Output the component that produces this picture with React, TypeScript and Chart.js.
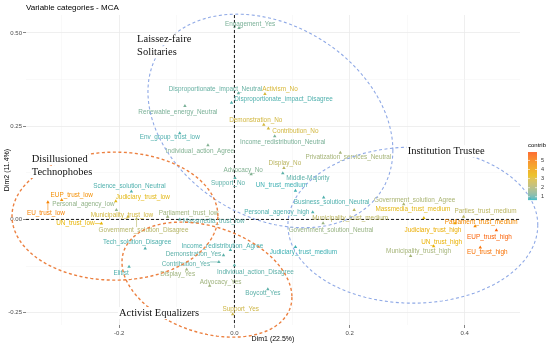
import React, { useEffect, useRef } from 'react';
import { Chart, registerables } from 'chart.js';

Chart.register(...registerables);

// ---------------- DATA ----------------
const categories = [
  'Engagement_Yes', 'Disproportionate_impact_Neutral', 'Activism_No', 'Disproportionate_impact_Disagree',
  'Renewable_energy_Neutral', 'Demonstration_No', 'Contribution_No', 'Env_group_trust_low',
  'Income_redistribution_Neutral', 'Individual_action_Agree', 'Display_No', 'Privatization_services_Neutral',
  'Advocacy_No', 'Middle-Majority', 'Support_No', 'UN_trust_medium',
  'Business_solution_Neutral', 'Personal_agency_high', 'Municipality_trust_medium', 'Government_solution_Neutral',
  'Judiciary_trust_medium', 'Government_solution_Agree', 'Massmedia_trust_medium', 'Parties_trust_medium',
  'Parliament_trust_medium', 'Judiciary_trust_high', 'EUP_trust_high', 'UN_trust_high',
  'EU_trust_high', 'Municipality_trust_high', 'Science_solution_Neutral', 'EUP_trust_low',
  'Judiciary_trust_low', 'Personal_agency_low', 'EU_trust_low', 'Municipality_trust_low',
  'UN_trust_low', 'Government_solution_Disagree', 'Parliament_trust_low', 'Massmedia_trust_low',
  'Tech_solution_Disagree', 'Income_redistribution_Agree', 'Demonstration_Yes', 'Contribution_Yes',
  'Elitist', 'Display_Yes', 'Individual_action_Disagree', 'Advocacy_Yes',
  'Boycott_Yes', 'Support_Yes',
];

const dim1 = [
  0.008, 0.007, 0.053, -0.005,
  -0.086, 0.051, 0.059, -0.095,
  0.070, -0.046, 0.086, 0.184,
  0.029, 0.084, 0.001, 0.106,
  0.155, 0.136, 0.208, 0.154,
  0.106, 0.294, 0.329, 0.398,
  0.418, 0.383, 0.455, 0.346,
  0.427, 0.306, -0.179, -0.300,
  -0.206, -0.205, -0.324, -0.185,
  -0.231, -0.170, -0.116, -0.095,
  -0.155, -0.007, -0.019, -0.027,
  -0.183, -0.083, 0.000, -0.043,
  0.058, -0.003,
];

const dim2 = [
  0.513, 0.338, 0.336, 0.313,
  0.304, 0.254, 0.244, 0.231,
  0.223, 0.199, 0.138, 0.179,
  0.121, 0.124, 0.111, 0.077,
  0.059, 0.019, 0.025, -0.010,
  -0.074, 0.041, 0.004, 0.007,
  -0.018, -0.010, -0.029, -0.072,
  -0.075, -0.098, 0.075, 0.052,
  0.049, 0.025, 0.046, 0.007,
  -0.011, 0.001, 0.007, 0.000,
  -0.078, -0.082, -0.096, -0.114,
  -0.127, -0.134, -0.123, -0.178,
  -0.187, -0.254,
];

const contrib = [
  1.3, 1.1, 2.9, 0.9,
  1.3, 2.8, 2.8, 0.9,
  1.3, 1.4, 2.3, 1.9,
  1.4, 1.0, 1.0, 0.8,
  0.9, 0.9, 2.3, 1.7,
  0.8, 2.0, 3.2, 2.3,
  4.6, 3.6, 5.6, 3.5,
  5.2, 1.9, 0.9, 4.5,
  3.2, 1.6, 4.8, 2.8,
  3.4, 2.2, 1.8, 1.0,
  0.9, 0.9, 1.0, 1.0,
  0.9, 1.8, 1.0, 1.8,
  1.0, 2.7,
];

// label nudges (pixels) from each point, as placed by the repel layout
const labelDx = [
  11, -23, 15, 52,
  -7, -8, 27, -10,
  8, -8, 1, 8,
  -8, 25, -7, -14,
  8, -36, -4, 8,
  8, 11, -11, 22,
  6, -22, -7, 8,
  7, 8, -2, 10,
  27, -33, -2, -6,
  -26, 7, 21, 34,
  -8, -8, -30, -33,
  -8, -9, 21, 11,
  -5, 8,
];
const labelDy = [
  -4, -4, -5, -3,
  6, -4, 3, 4,
  6, 6, -5, 5,
  -4, 5, 5, -5,
  5, 0, 8, 7,
  5, -4, -9, -6,
  -4, 7, 7, -4,
  5, -5, -5, -5,
  -4, -6, 11, -2,
  0, 11, -4, 2,
  -6, -4, -1, 2,
  6, 5, 7, -4,
  4, -5,
];
const segmentLabels = ['EU_trust_low', 'UN_trust_low', 'Government_solution_Disagree', 'Contribution_Yes'];

const xTicks = [-0.3, -0.2, -0.1, 0, 0.1, 0.2, 0.3, 0.4];
const xMajor = [-0.2, 0, 0.2, 0.4];
const xMajorLabels = ['-0.2', '0.0', '0.2', '0.4'];
const yTicks = [-0.25, -0.125, 0, 0.125, 0.25, 0.375, 0.5];
const yMajor = [-0.25, 0, 0.25, 0.5];
const yMajorLabels = ['-0.25', '0.00', '0.25', '0.50'];
const xRange = [-0.362, 0.496];
const yRange = [-0.283, 0.548];

const contribLimits = [0.64, 5.93];
const legendBreaks = [1, 2, 3, 4, 5];
const gradientColors = ['#00AFBB', '#E7B800', '#FC4E07'];

const groupNames = [['Laissez-faire', 'Solitaries'], ['Disillusioned', 'Technophobes'], ['Institution Trustee'], ['Activist Equalizers']];
const groupTextX = [-0.169, -0.352, 0.301, -0.2005];
const groupTextY = [0.483, 0.162, 0.183, -0.251];
const groupColors = ['#8FA9E6', '#EC8040', '#8FA9E6', '#EC8040'];
// ellipse: centre and two conjugate semi-diameters (data units)
const ellipseCenter = [[0.0625, 0.264], [-0.2075, 0.0088], [0.3099, -0.0153], [-0.0477, -0.1614]];
const ellipseA = [[0.2127, -0.0783], [0.1788, 0], [0.217, 0], [0.1476, -0.0469]];
const ellipseB = [[0, -0.2753], [0, 0.1716], [0, 0.2091], [0, -0.1469]];

// ---------------- COLOUR ----------------
function hexToRgb(h: string) {
  const n = parseInt(h.slice(1), 16);
  return [(n >> 16) & 255, (n >> 8) & 255, n & 255];
}
function rgbToLab(c: number[]) {
  const lin = (v: number) => { v /= 255; return v <= 0.04045 ? v / 12.92 : Math.pow((v + 0.055) / 1.055, 2.4); };
  const R = lin(c[0]), G = lin(c[1]), B = lin(c[2]);
  const X = (R * 0.4124 + G * 0.3576 + B * 0.1805) / 0.95047;
  const Y = R * 0.2126 + G * 0.7152 + B * 0.0722;
  const Z = (R * 0.0193 + G * 0.1192 + B * 0.9505) / 1.08883;
  const f = (t: number) => (t > 0.008856 ? Math.cbrt(t) : 7.787 * t + 16 / 116);
  const fx = f(X), fy = f(Y), fz = f(Z);
  return [116 * fy - 16, 500 * (fx - fy), 200 * (fy - fz)];
}
function labToRgb(l: number[]) {
  const fy = (l[0] + 16) / 116, fx = fy + l[1] / 500, fz = fy - l[2] / 200;
  const inv = (t: number) => (t * t * t > 0.008856 ? t * t * t : (t - 16 / 116) / 7.787);
  const X = inv(fx) * 0.95047, Y = inv(fy), Z = inv(fz) * 1.08883;
  const R = 3.2406 * X - 1.5372 * Y - 0.4986 * Z;
  const G = -0.9689 * X + 1.8758 * Y + 0.0415 * Z;
  const B = 0.0557 * X - 0.204 * Y + 1.057 * Z;
  const g = (v: number) => {
    v = v <= 0.0031308 ? 12.92 * v : 1.055 * Math.pow(v, 1 / 2.4) - 0.055;
    return Math.round(Math.min(1, Math.max(0, v)) * 255);
  };
  return [g(R), g(G), g(B)];
}
const labStops = gradientColors.map((h) => rgbToLab(hexToRgb(h)));
function contribColor(v: number) {
  let t = (v - contribLimits[0]) / (contribLimits[1] - contribLimits[0]);
  t = Math.min(1, Math.max(0, t));
  const seg = t < 0.5 ? 0 : 1;
  const u = t < 0.5 ? t / 0.5 : (t - 0.5) / 0.5;
  const a = labStops[seg], b = labStops[seg + 1];
  const lab = [a[0] + (b[0] - a[0]) * u, a[1] + (b[1] - a[1]) * u, a[2] + (b[2] - a[2]) * u];
  const c = labToRgb(lab);
  return `rgb(${c[0]},${c[1]},${c[2]})`;
}

const near = (v: number, arr: number[]) => arr.some((m) => Math.abs(m - v) < 1e-9);
const SANS = '"Liberation Sans", Arial, sans-serif';

const overlayPlugin = {
  id: 'overlay',
  beforeDatasetsDraw(chart: any) {
    const { ctx, chartArea: ca, scales } = chart;
    const x0 = scales.x.getPixelForValue(0);
    const y0 = scales.y.getPixelForValue(0);
    ctx.save();
    ctx.strokeStyle = '#000';
    ctx.lineWidth = 0.9;
    ctx.setLineDash([3, 2]);
    ctx.beginPath();
    ctx.moveTo(x0, ca.top);
    ctx.lineTo(x0, ca.bottom);
    ctx.moveTo(ca.left, y0);
    ctx.lineTo(ca.right, y0);
    ctx.stroke();
    ctx.restore();
  },
  afterDatasetsDraw(chart: any) {
    const { ctx, scales } = chart;
    ctx.save();
    ctx.font = `6.4px ${SANS}`;
    ctx.textAlign = 'center';
    ctx.textBaseline = 'middle';
    categories.forEach((name, i) => {
      const px = scales.x.getPixelForValue(dim1[i]);
      const py = scales.y.getPixelForValue(dim2[i]);
      const lx = px + labelDx[i];
      const ly = py + labelDy[i];
      const col = contribColor(contrib[i]);
      if (segmentLabels.includes(name)) {
        const w = ctx.measureText(name).width;
        const bx = Math.min(Math.max(px, lx - w / 2), lx + w / 2);
        const by = Math.min(Math.max(py, ly - 3), ly + 3);
        ctx.strokeStyle = col;
        ctx.lineWidth = 0.6;
        ctx.beginPath();
        ctx.moveTo(bx, by);
        ctx.lineTo(px, py);
        ctx.stroke();
      }
      ctx.fillStyle = col;
      ctx.fillText(name, lx, ly);
    });
    ctx.restore();
  },
  afterDraw(chart: any) {
    const { ctx, chartArea: ca, scales } = chart;
    ctx.save();
    // ellipses
    ellipseCenter.forEach((c, k) => {
      ctx.strokeStyle = groupColors[k];
      ctx.lineWidth = k % 2 === 0 ? 1.1 : 1.4;
      ctx.setLineDash([3, 2.5]);
      ctx.beginPath();
      for (let s = 0; s <= 160; s++) {
        const t = (s / 160) * Math.PI * 2;
        const vx = c[0] + ellipseA[k][0] * Math.cos(t) + ellipseB[k][0] * Math.sin(t);
        const vy = c[1] + ellipseA[k][1] * Math.cos(t) + ellipseB[k][1] * Math.sin(t);
        const px = scales.x.getPixelForValue(vx);
        const py = scales.y.getPixelForValue(vy);
        if (s === 0) ctx.moveTo(px, py); else ctx.lineTo(px, py);
      }
      ctx.stroke();
    });
    ctx.setLineDash([]);
    // group names
    ctx.font = `10.5px "Liberation Serif", "Times New Roman", serif`;
    ctx.textAlign = 'left';
    ctx.textBaseline = 'middle';
    groupNames.forEach((lines, k) => {
      const gx = scales.x.getPixelForValue(groupTextX[k]);
      const gy = scales.y.getPixelForValue(groupTextY[k]);
      lines.forEach((ln, j) => {
        const w = ctx.measureText(ln).width;
        ctx.fillStyle = '#fff';
        ctx.fillRect(gx - 1, gy + j * 13 - 6, w + 2, 12);
        ctx.fillStyle = '#111';
        ctx.fillText(ln, gx, gy + j * 13);
      });
    });
    // title
    ctx.fillStyle = '#000';
    ctx.font = `8px ${SANS}`;
    ctx.fillText('Variable categories - MCA', ca.left, 8);
    // axis titles
    ctx.font = `7px ${SANS}`;
    ctx.textAlign = 'center';
    ctx.fillText('Dim1 (22.5%)', (ca.left + ca.right) / 2, 339);
    ctx.save();
    ctx.translate(7, (ca.top + ca.bottom) / 2);
    ctx.rotate(-Math.PI / 2);
    ctx.fillText('Dim2 (11.4%)', 0, 0);
    ctx.restore();
    // legend
    const barL = ca.right + 8, barW = 9, barTop = 152, barBot = 200;
    const toY = (v: number) => barBot - ((v - contribLimits[0]) / (contribLimits[1] - contribLimits[0])) * (barBot - barTop);
    for (let yy = barTop; yy < barBot; yy += 0.5) {
      const v = contribLimits[0] + ((barBot - yy) / (barBot - barTop)) * (contribLimits[1] - contribLimits[0]);
      ctx.fillStyle = contribColor(v);
      ctx.fillRect(barL, yy, barW, 0.6);
    }
    ctx.strokeStyle = '#fff';
    ctx.lineWidth = 0.6;
    ctx.fillStyle = '#333';
    ctx.font = `5.5px ${SANS}`;
    ctx.textAlign = 'left';
    legendBreaks.forEach((b) => {
      const yy = toY(b);
      ctx.beginPath();
      ctx.moveTo(barL, yy); ctx.lineTo(barL + 2, yy);
      ctx.moveTo(barL + barW - 2, yy); ctx.lineTo(barL + barW, yy);
      ctx.stroke();
      ctx.fillText(String(b), barL + barW + 4, yy);
    });
    ctx.font = `6px ${SANS}`;
    ctx.fillStyle = '#000';
    ctx.fillText('contrib', barL, 145);
    ctx.restore();
  },
};

export default function App() {
  const ref = useRef<HTMLCanvasElement>(null);
  useEffect(() => {
    document.body.style.margin = '0';
    const canvas = ref.current!;
    const chart = new Chart(canvas, {
      type: 'scatter',
      data: {
        datasets: [
          {
            data: categories.map((_, i) => ({ x: dim1[i], y: dim2[i] })),
            pointStyle: 'triangle',
            pointRadius: 2,
            pointBorderWidth: 0,
            backgroundColor: contrib.map((c) => contribColor(c)),
            borderColor: contrib.map((c) => contribColor(c)),
          },
        ],
      },
      options: {
        animation: false,
        responsive: false,
        devicePixelRatio: 1,
        layout: { padding: { left: 0, right: 30, top: 15, bottom: 0 } },
        plugins: { legend: { display: false }, tooltip: { enabled: false }, title: { display: false } },
        scales: {
          x: {
            type: 'linear',
            min: xRange[0],
            max: xRange[1],
            afterBuildTicks: (s: any) => { s.ticks = xTicks.map((v) => ({ value: v })); },
            afterFit: (s: any) => { s.height = 23; },
            border: { display: false },
            grid: {
              color: (c: any) => (c.tick && near(c.tick.value, xMajor) ? '#EBEBEB' : '#F3F3F3'),
              lineWidth: (c: any) => (c.tick && near(c.tick.value, xMajor) ? 0.8 : 0.5),
              tickColor: (c: any) => (c.tick && near(c.tick.value, xMajor) ? '#333' : 'rgba(0,0,0,0)'),
              tickLength: 3,
              tickWidth: 0.6,
            },
            ticks: {
              autoSkip: false,
              maxRotation: 0,
              padding: 2,
              color: '#4D4D4D',
              font: { size: 6, family: SANS },
              callback: (v: any) => {
                const k = xMajor.findIndex((m) => Math.abs(m - v) < 1e-9);
                return k >= 0 ? xMajorLabels[k] : '';
              },
            },
          },
          y: {
            type: 'linear',
            min: yRange[0],
            max: yRange[1],
            afterBuildTicks: (s: any) => { s.ticks = yTicks.map((v) => ({ value: v })); },
            afterFit: (s: any) => { s.width = 26; },
            border: { display: false },
            grid: {
              color: (c: any) => (c.tick && near(c.tick.value, yMajor) ? '#EBEBEB' : '#F3F3F3'),
              lineWidth: (c: any) => (c.tick && near(c.tick.value, yMajor) ? 0.8 : 0.5),
              tickColor: (c: any) => (c.tick && near(c.tick.value, yMajor) ? '#333' : 'rgba(0,0,0,0)'),
              tickLength: 3,
              tickWidth: 0.6,
            },
            ticks: {
              autoSkip: false,
              padding: 1,
              color: '#4D4D4D',
              font: { size: 6, family: SANS },
              callback: (v: any) => {
                const k = yMajor.findIndex((m) => Math.abs(m - v) < 1e-9);
                return k >= 0 ? yMajorLabels[k] : '';
              },
            },
          },
        },
      },
      plugins: [overlayPlugin],
    } as any);
    return () => chart.destroy();
  }, []);
  return (
    <div style={{ width: 550, height: 348 }}>
      <canvas ref={ref} width={550} height={348} style={{ display: 'block', width: 550, height: 348 }} />
    </div>
  );
}
